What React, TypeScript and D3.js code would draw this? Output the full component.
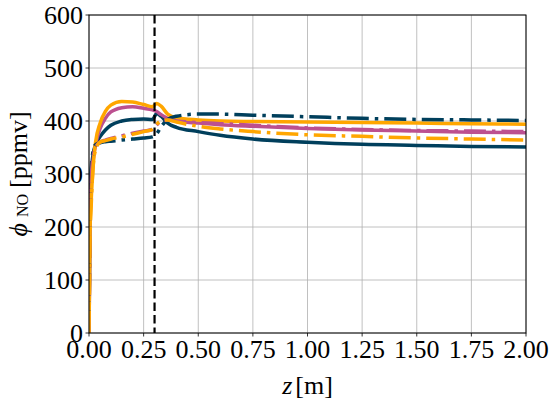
import React from "react";
import * as d3 from "d3";

const zGrid = [0, 0.005, 0.01, 0.02, 0.03, 0.05, 0.075, 0.1, 0.15, 0.2, 0.25, 0.29, 0.31, 0.33, 0.36, 0.4, 0.5, 0.6, 0.75, 1.0, 1.25, 1.5, 1.75, 2.0];

const darkSolid = [0, 250, 300, 340, 355, 370, 383, 392, 400, 403, 404, 403, 414, 409, 396, 388, 380, 373, 366, 360, 356, 354, 352, 351];
const darkDashDot = [0, 250, 310, 345, 355, 359, 361, 362, 364, 366, 368, 370, 376, 389, 403, 409, 413, 413, 411, 408, 405, 403, 402, 401];
const pinkSolid = [0, 220, 280, 330, 355, 385, 405, 417, 425, 427, 424, 421, 418, 412, 405, 400, 396, 393, 390, 386, 383, 381, 379, 378];
const pinkDashDot = [0, 220, 290, 335, 350, 360, 364, 367, 372, 377, 381, 384, 393, 400, 402, 400, 397, 395, 392, 387, 384, 382, 381, 380];
const orangeSolid = [0, 200, 250, 320, 360, 395, 418, 430, 437, 436, 431, 427, 433, 428, 413, 406, 402, 400, 399, 398, 397, 396, 395, 394];
const orangeDashDot = [0, 180, 240, 320, 345, 360, 363, 366, 370, 375, 380, 384, 394, 400, 402, 398, 390, 385, 380, 374, 371, 368, 366, 364];

const xTicks = [0, 0.25, 0.5, 0.75, 1.0, 1.25, 1.5, 1.75, 2.0];
const yTicks = [0, 100, 200, 300, 400, 500, 600];
const markerZ = 0.3;

const series = [
  { values: darkSolid, color: "#003f5c", dash: null },
  { values: pinkSolid, color: "#bc5090", dash: null },
  { values: orangeSolid, color: "#ffa600", dash: null },
  { values: darkDashDot, color: "#003f5c", dash: "22,6,3.5,6" },
  { values: pinkDashDot, color: "#bc5090", dash: "22,6,3.5,6" },
  { values: orangeDashDot, color: "#ffa600", dash: "22,6,3.5,6" },
];

const font = "'Liberation Serif'";

export default function App() {
  const W = 550, H = 403;
  const left = 89, right = 526, top = 15, bottom = 333;
  const x = d3.scaleLinear().domain([0, 2]).range([left, right]);
  const y = d3.scaleLinear().domain([0, 600]).range([bottom, top]);
  const line = d3
    .line<number>()
    .x((_, i) => x(zGrid[i]))
    .y((d) => y(d))
    .curve(d3.curveMonotoneX);
  const ts = { fontFamily: font, fontSize: 26 };
  return (
    <svg width={W} height={H} style={{ position: "absolute", left: 0, top: 0, background: "#fff" }}>
      <defs>
        <clipPath id="plot">
          <rect x={left} y={top} width={right - left} height={bottom - top} />
        </clipPath>
      </defs>
      {xTicks.map((t) => (
        <line key={"gx" + t} x1={x(t)} x2={x(t)} y1={top} y2={bottom} stroke="#b0b0b0" strokeWidth={0.8} />
      ))}
      {yTicks.map((t) => (
        <line key={"gy" + t} x1={left} x2={right} y1={y(t)} y2={y(t)} stroke="#b0b0b0" strokeWidth={0.8} />
      ))}
      <g clipPath="url(#plot)">
        {series.map((s, i) => (
          <path
            key={i}
            d={line(s.values) || ""}
            fill="none"
            stroke={s.color}
            strokeWidth={3.5}
            strokeDasharray={s.dash || undefined}
            strokeLinejoin="round"
          />
        ))}
        <line x1={x(markerZ)} x2={x(markerZ)} y1={top} y2={bottom} stroke="#000" strokeWidth={2.2} strokeDasharray="8.5,4" />
      </g>
      <rect x={left} y={top} width={right - left} height={bottom - top} fill="none" stroke="#000" strokeWidth={1} />
      {xTicks.map((t) => (
        <g key={"tx" + t}>
          <line x1={x(t)} x2={x(t)} y1={bottom} y2={bottom + 3.5} stroke="#000" strokeWidth={0.8} />
          <text x={x(t)} y={bottom + 25} textAnchor="middle" style={ts}>
            {t.toFixed(2)}
          </text>
        </g>
      ))}
      {yTicks.map((t) => (
        <g key={"ty" + t}>
          <line x1={left - 3.5} x2={left} y1={y(t)} y2={y(t)} stroke="#000" strokeWidth={0.8} />
          <text x={left - 6} y={y(t) + 9} textAnchor="end" style={ts}>
            {t}
          </text>
        </g>
      ))}
      <text x={(left + right) / 2} y={394} textAnchor="middle" style={ts}>
        <tspan style={{ fontStyle: "italic" }}>z</tspan>
        <tspan dx={3}>[m]</tspan>
      </text>
      <text transform={`translate(27, 174) rotate(-90)`} textAnchor="middle" style={ts}>
        <tspan style={{ fontStyle: "italic" }}>ϕ</tspan>
        <tspan dx={6} dy={1} style={{ fontSize: 16 }}>NO</tspan>
        <tspan dx={6} dy={-1}>[ppmv]</tspan>
      </text>
    </svg>
  );
}
